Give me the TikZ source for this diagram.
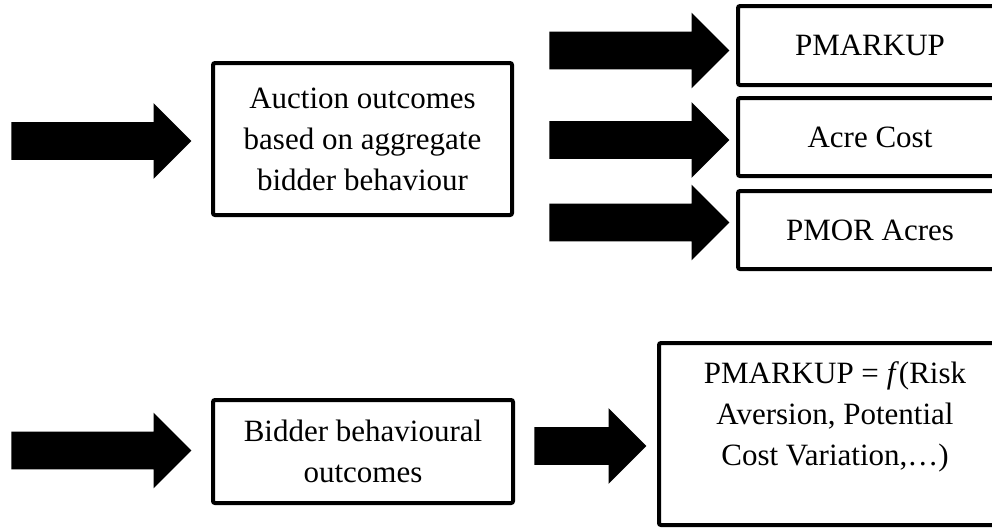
\documentclass[tikz,border=0pt]{standalone}
\usepackage{fontspec}
\setmainfont{Liberation Serif}
\usetikzlibrary{shapes.arrows}

\newcommand{\boxfont}{\fontsize{15.5}{20.5}\selectfont}

\tikzset{
  flowbox/.style={draw, line width=2pt, rounded corners=1pt, align=center,
    font=\boxfont, inner sep=0pt},
  fatarrow/.style={single arrow, fill=black, draw=none, inner xsep=0pt, inner ysep=9.25pt,
    single arrow head extend=9.5pt, minimum height=90pt, anchor=tip},
}

\begin{document}
\begin{tikzpicture}[x=0.5pt, y=-0.5pt]
  \useasboundingbox (0,0) rectangle (992,527);

  % Upper row
  \node[fatarrow] (inA) at (192,141) {};
  \node[flowbox, minimum width=149.5pt, minimum height=76pt] (auction) at (362.5,139)
    {Auction outcomes\\based on aggregate\\bidder behaviour};
  \node[fatarrow] (outA) at (730,50.5) {};
  \node[fatarrow] (outB) at (730,140) {};
  \node[fatarrow] (outC) at (730,222.5) {};
  \node[flowbox, minimum width=132pt, minimum height=39.5pt] (pmarkup) at (870,45.5) {PMARKUP};
  \node[flowbox, minimum width=132pt, minimum height=39pt] (acre) at (870,137) {Acre Cost};
  \node[flowbox, minimum width=132pt, minimum height=39pt] (pmor) at (870,230) {PMOR Acres};

  % Lower row
  \node[fatarrow] (inB) at (192,450.5) {};
  \node[flowbox, minimum width=150pt, minimum height=51.5pt] (bidder) at (363,451.5)
    {Bidder behavioural\\outcomes};
  \node[fatarrow, minimum height=56pt] (toF) at (647,446) {};
  \node[flowbox, minimum width=176pt, minimum height=91pt] (fbox) at (835,434)
    {PMARKUP = \textit{f}(Risk\\Aversion, Potential\\Cost Variation,…)\\\mbox{}};
\end{tikzpicture}
\end{document}
